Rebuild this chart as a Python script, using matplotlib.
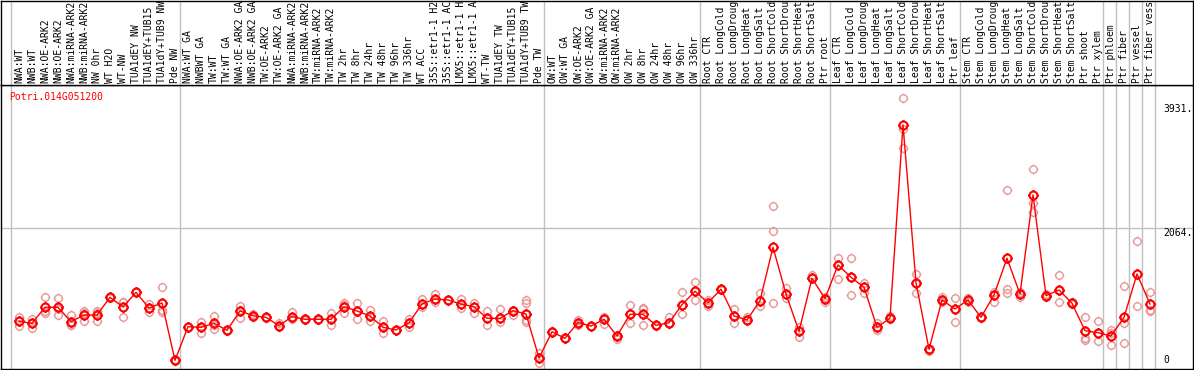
import matplotlib
matplotlib.use("Agg")
import matplotlib.pyplot as plt
from matplotlib.path import Path
from matplotlib.transforms import blended_transform_factory

gene_id = "Potri.014G051200"

labels = [
    "NWA:WT", "NWB:WT", "NWA:OE-ARK2", "NWB:OE-ARK2", "NWA:miRNA-ARK2", "NWB:miRNA-ARK2",
    "NW 0hr", "WT H2O", "WT-NW", "TUA1dEY NW", "TUA1dEY+TUB15 ", "TUA1dY+TUB9 NW", "Pde NW",
    "NWA:WT GA", "NWBWT GA", "TW:WT", "TW:WT GA", "NWA:OE-ARK2 GA", "NWB:OE-ARK2 GA",
    "TW:OE-ARK2", "TW:OE-ARK2 GA", "NWA:miRNA-ARK2", "NWB:miRNA-ARK2", "TW:miRNA-ARK2",
    "TW:miRNA-ARK2", "TW 2hr", "TW 8hr", "TW 24hr", "TW 48hr", "TW 96hr", "TW 336hr",
    "WT ACC", "35S::etr1-1 H2", "35S::etr1-1 AC", "LMX5::etr1-1 H", "LMX5::etr1-1 A",
    "WT-TW", "TUA1dEY TW", "TUA1dEY+TUB15 ", "TUA1dY+TUB9 TW", "Pde TW",
    "OW:WT", "OW:WT GA", "OW:OE-ARK2", "OW:OE-ARK2 GA", "OW:miRNA-ARK2", "OW:miRNA-ARK2",
    "OW 2hr", "OW 8hr", "OW 24hr", "OW 48hr", "OW 96hr", "OW 336hr",
    "Root CTR", "Root LongCold", "Root LongDroug", "Root LongHeat", "Root LongSalt",
    "Root ShortCold", "Root ShortDrou", "Root ShortHeat", "Root ShortSalt", "Ptr root",
    "Leaf CTR", "Leaf LongCold", "Leaf LongDroug", "Leaf LongHeat", "Leaf LongSalt",
    "Leaf ShortCold", "Leaf ShortDrou", "Leaf ShortHeat", "Leaf ShortSalt", "Ptr leaf",
    "Stem CTR", "Stem LongCold", "Stem LongDroug", "Stem LongHeat", "Stem LongSalt",
    "Stem ShortCold", "Stem ShortDrou", "Stem ShortHeat", "Stem ShortSalt", "Ptr shoot",
    "Ptr xylem", "Ptr phloem", "Ptr fiber", "Ptr vessel", "Ptr fiber vess",
]

group_sizes = [13, 28, 12, 10, 10, 11, 1, 1, 1, 1]

means = [
    659, 628, 870, 870, 653, 753, 753, 1020, 875, 1095, 859, 934, 70,
    578, 568, 628, 523, 814, 743, 718, 592, 728, 689, 689, 689, 878, 814, 739, 568, 528,
    637, 919, 995, 980, 919, 878, 704, 704, 819, 769, 106,
    502, 402, 640, 587, 689, 437, 764, 764, 598, 637, 909, 1111,
    939, 1141, 739, 678, 969, 1774, 1070, 508, 1306, 1000,
    1508, 1322, 1171, 568, 706, 3618, 1241, 237, 980, 844,
    980, 718, 1055, 1608, 1070, 2563, 1045, 1131, 930, 517, 487,
    437, 718, 1372, 919,
]

replicates = [
    [728, 587, 659], [693, 553, 634], [1020, 779, 820], [1005, 753, 849], [753, 603, 605],
    [814, 664, 781], [814, 664, 781], [1020, 1025, 1015], [954, 718, 952], [1095, 1098, 1093],
    [919, 803, 854], [1171, 829, 803, 934], [70, 63, 77],
    [578, 576, 580], [653, 487, 566], [739, 542, 605], [523, 527, 517], [894, 713, 830],
    [743, 771, 722], [718, 722, 712], [592, 634, 576], [803, 689, 722], [689, 693, 683],
    [689, 693, 683], [779, 598, 689], [939, 789, 908], [930, 699, 814], [829, 667, 739],
    [667, 478, 568], [528, 532, 522], [689, 578, 637], [990, 878, 919], [1065, 954, 995],
    [980, 986, 976], [995, 854, 919], [939, 789, 878], [814, 603, 704], [839, 653, 704],
    [819, 753, 830], [980, 930, 678, 653, 769], [176, 26, 106],
    [502, 507, 497], [402, 405, 400], [643, 603, 673], [587, 590, 583], [728, 618, 689],
    [437, 387, 458], [900, 637, 764], [864, 839, 598], [598, 605, 590], [718, 613, 637],
    [1100, 764, 909], [1251, 980, 1111],
    [939, 980, 889], [1141, 1147, 1137], [839, 637, 739], [678, 728, 673], [1081, 894, 969],
    [2392, 2016, 930], [1156, 1005, 1070], [578, 426, 508], [1356, 1308, 1306], [1000, 1030, 947],
    [1608, 1297, 1508], [1608, 1050, 1322], [1241, 1089, 1171], [628, 528, 568], [708, 732, 693],
    [4020, 3553, 3266], [1372, 1081, 1241], [237, 214, 243], [1030, 980, 947], [1005, 643, 844],
    [1015, 947, 980], [718, 722, 712], [1105, 954, 1055], [2638, 1141, 1081], [1070, 1025, 1103],
    [2955, 2438, 2311], [1074, 1025, 1045], [1352, 945, 1131], [930, 947, 918], [718, 402, 370],
    [667, 357, 487],
    [528, 297, 478], [1191, 637, 336], [1864, 889], [1100, 829, 810],
]

axis_labels = ["3931.", "2064.", "0"]
axis_values = [3931, 2064, 0]

W, H = 1194, 370
fig = plt.figure(figsize=(W / 100, H / 100), dpi=100)
fig.patch.set_facecolor("white")

# pixel geometry
left_px, right_px = 1, 1193
top_plot, bot_plot = 85, 369
ax = fig.add_axes([left_px / W, (H - bot_plot) / H, (right_px - left_px) / W, (bot_plot - top_plot) / H])
lab = fig.add_axes([left_px / W, (H - top_plot) / H, (right_px - left_px) / W, (top_plot - 0.5) / H])

x0_px, step_px = 19, 13
xlim = ((left_px - x0_px) / step_px, (right_px - x0_px) / step_px)
px_per_val = 1 / 15.07
ylim = (-(369 - 365) * 15.07, (365 - 85) * 15.07)

for a in (ax, lab):
    a.set_xlim(*xlim)
    a.set_xticks([])
    a.set_yticks([])
    for s in a.spines.values():
        s.set_color("black")
        s.set_linewidth(1.0)
ax.set_ylim(*ylim)
lab.set_ylim(0, 1)

# separators
seps = [-0.6]
acc = 0
for g in group_sizes:
    acc += g
    seps.append(acc - 1 + 0.4)
for s in seps:
    ax.axvline(s, color="#c0c0c0", lw=1.0, zorder=0)
    lab.axvline(s, color="#c0c0c0", lw=1.0, zorder=0)

ax.axhline(2064, color="#c0c0c0", lw=1.0, zorder=0)

# marker: circle with small ticks
circ = Path.unit_circle()
verts = list(circ.vertices)
codes = list(circ.codes)
for dx, dy in [(1, 0), (-1, 0), (0, 1), (0, -1)]:
    verts += [(dx * 1.0, dy * 1.0), (dx * 1.3, dy * 1.3)]
    codes += [Path.MOVETO, Path.LINETO]
mk = Path(verts, codes)

xs = list(range(len(means)))
rx, ry = [], []
for i, reps in enumerate(replicates):
    for v in reps:
        rx.append(i)
        ry.append(v)
ax.plot(rx, ry, linestyle="none", marker=mk, ms=7.0, mfc="none", mec="#e89898", mew=1.0, zorder=2)
ax.plot(xs, means, color="red", lw=1.0, marker=mk, ms=7.4, mfc="none", mec="red", mew=1.5, zorder=3)

mono = "DejaVu Sans Mono"
tr = blended_transform_factory(lab.transData, lab.transAxes)
for i, t in enumerate(labels):
    lab.text(i, 2 / 84, t, rotation=90, ha="center", va="bottom", fontsize=7,
             family=mono, transform=tr, color="black")

fig.text(9 / W, 1 - 92 / H, gene_id, color="red", fontsize=7, family=mono, ha="left", va="top")

trr = blended_transform_factory(ax.transAxes, ax.transData)
xr = (1163 - left_px) / (right_px - left_px)
for t, v in zip(axis_labels, axis_values):
    ax.text(xr, v, t, transform=trr, ha="left", va="bottom" if v == 0 else "top",
            fontsize=7, family=mono, color="black")

fig.savefig("out.png", dpi=100)
